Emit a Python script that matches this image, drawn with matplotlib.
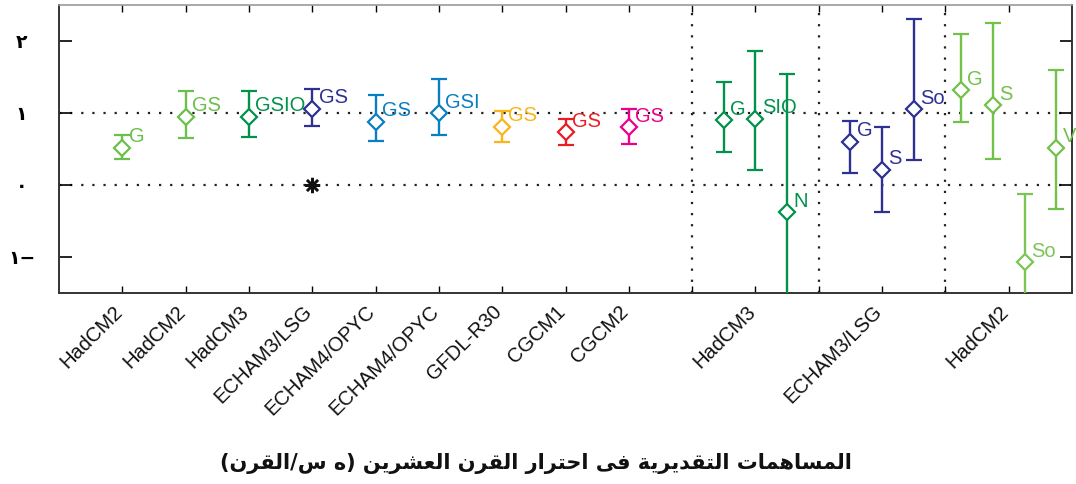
import matplotlib
matplotlib.use("Agg")
import matplotlib.pyplot as plt

# model labels on the x axis
tick_pos = [1, 2, 3, 4, 5, 6, 7, 8, 9, 11, 13, 15]
tick_names = ["HadCM2", "HadCM2", "HadCM3", "ECHAM3/LSG", "ECHAM4/OPYC", "ECHAM4/OPYC",
              "GFDL-R30", "CGCM1", "CGCM2", "HadCM3", "ECHAM3/LSG", "HadCM2"]

# estimated contributions (best guess, lower and upper bound)
x_pos = [1, 2, 3, 4, 5, 6, 7, 8, 9, 10.5, 11, 11.5, 12.5, 13, 13.5, 14.25, 14.75, 15.25, 15.75]
best = [0.52, 0.95, 0.95, 1.06, 0.88, 1.00, 0.81, 0.73, 0.80, 0.90, 0.92, -0.38,
        0.60, 0.21, 1.05, 1.32, 1.11, -1.07, 0.52]
lower = [0.36, 0.65, 0.66, 0.82, 0.61, 0.69, 0.60, 0.55, 0.57, 0.46, 0.21, -1.9,
         0.17, -0.38, 0.35, 0.87, 0.36, -1.9, -0.33]
upper = [0.69, 1.30, 1.31, 1.34, 1.25, 1.47, 1.03, 0.92, 1.06, 1.43, 1.86, 1.54,
         0.89, 0.81, 2.31, 2.10, 2.25, -0.12, 1.60]
tags = ["G", "GS", "GSIO", "GS", "GS", "GSI", "GS", "GS", "GS", "G", "SIO", "N",
        "G", "S", "So", "G", "S", "So", "V"]
colors = ["#6cbf4a", "#6cbf4a", "#00924a", "#2e3192", "#0a7ec2", "#0a7ec2", "#fbb419",
          "#ec1c24", "#ec008c", "#00924a", "#00924a", "#00924a", "#2e3192", "#2e3192",
          "#2e3192", "#72c14a", "#72c14a", "#7cc555", "#72c14a"]
star_x = [4]
star_y = [0]

y_ticks = [2, 1, 0, -1]
y_names = ["٢", "١", "٠", "−١"]
xlabel = "المساهمات التقديرية فى احترار القرن العشرين (ه س/القرن)"

# minimal arabic shaping (matplotlib has no bidi / joining)
FORMS = {
    "ا": ("\uFE8D", "\uFE8E", None, None),
    "د": ("\uFEA9", "\uFEAA", None, None),
    "ر": ("\uFEAD", "\uFEAE", None, None),
    "ة": ("\uFE93", "\uFE94", None, None),
    "ى": ("\uFEEF", "\uFEF0", None, None),
    "ت": ("\uFE95", "\uFE96", "\uFE97", "\uFE98"),
    "ح": ("\uFEA1", "\uFEA2", "\uFEA3", "\uFEA4"),
    "س": ("\uFEB1", "\uFEB2", "\uFEB3", "\uFEB4"),
    "ش": ("\uFEB5", "\uFEB6", "\uFEB7", "\uFEB8"),
    "ع": ("\uFEC9", "\uFECA", "\uFECB", "\uFECC"),
    "ف": ("\uFED1", "\uFED2", "\uFED3", "\uFED4"),
    "ق": ("\uFED5", "\uFED6", "\uFED7", "\uFED8"),
    "ل": ("\uFEDD", "\uFEDE", "\uFEDF", "\uFEE0"),
    "م": ("\uFEE1", "\uFEE2", "\uFEE3", "\uFEE4"),
    "ن": ("\uFEE5", "\uFEE6", "\uFEE7", "\uFEE8"),
    "ه": ("\uFEE9", "\uFEEA", "\uFEEB", "\uFEEC"),
    "ي": ("\uFEF1", "\uFEF2", "\uFEF3", "\uFEF4"),
}


def shape(s):
    out = []
    for i, c in enumerate(s):
        if c not in FORMS:
            out.append(c)
            continue
        iso, fin, ini, med = FORMS[c]
        prev = s[i - 1] if i > 0 else ""
        nxt = s[i + 1] if i + 1 < len(s) else ""
        jp = prev in FORMS and FORMS[prev][2] is not None
        jn = nxt in FORMS and ini is not None
        if jp and jn:
            out.append(med)
        elif jp:
            out.append(fin)
        elif jn:
            out.append(ini)
        else:
            out.append(iso)
    mirror = {"(": ")", ")": "("}
    return "".join(mirror.get(c, c) for c in reversed(out))


plt.rcParams["font.family"] = ["Liberation Sans", "DejaVu Sans"]

fig = plt.figure(figsize=(10.76, 4.84), dpi=100)
ax = fig.add_axes([59 / 1076, 1 - 293 / 484, (1072 - 59) / 1076, (293 - 5) / 484])

ax.axhline(0, color="#222222", lw=1.6, ls=(0, (1, 4)), zorder=1)
ax.axhline(1, color="#222222", lw=1.6, ls=(0, (1, 4)), zorder=1)
for xv in [10, 12, 14]:
    ax.axvline(xv, color="#222222", lw=1.6, ls=(0, (1, 4)), zorder=1)

for xi, b, lo, hi, t, c in zip(x_pos, best, lower, upper, tags, colors):
    ax.errorbar([xi], [b], yerr=[[b - lo], [hi - b]], fmt="D", ms=8, mfc="white",
                mec=c, mew=1.6, color=c, ecolor=c, elinewidth=1.7, capsize=5.5,
                capthick=1.7, zorder=3)
    ax.annotate(t, (xi, b), xytext=(4.5, 1), textcoords="offset points",
                ha="left", va="bottom", color=c, fontsize=14.5, zorder=4)

ax.plot(star_x, star_y, ls="none", marker=(8, 2, 0), ms=11, mec="#111111", mew=1.8, zorder=3)

ax.set_xlim(0, 16)
ax.set_ylim(-1.5, 2.5)
ax.set_xticks(range(1, 16))
ax.set_xticklabels([""] * 15)
for p, n in zip(tick_pos, tick_names):
    ax.text(p - 0.05, -1.72, n, rotation=45, rotation_mode="anchor", ha="right", va="center",
            fontsize=14.5, color="#111111")
ax.set_yticks(y_ticks)
ax.set_yticklabels([shape(n) for n in y_names], family="DejaVu Sans", fontweight="bold",
                   fontsize=13.5)
for lab in ax.get_yticklabels():
    lab.set_ha("center")
ax.tick_params(axis="y", direction="in", length=9, width=1.2, pad=27, right=True)
ax.tick_params(axis="x", direction="in", length=5, width=1.0, top=True)
for side in ["left", "right", "bottom"]:
    ax.spines[side].set_linewidth(1.4)
    ax.spines[side].set_color("#333333")
ax.spines["top"].set_color("#999999")
ax.spines["top"].set_linewidth(1.2)

fig.text(536 / 1076, 1 - 463 / 484, shape(xlabel), ha="center", va="center",
         family="DejaVu Sans", fontweight="bold", fontsize=15, color="#111111")

fig.savefig("out.png", dpi=100)
